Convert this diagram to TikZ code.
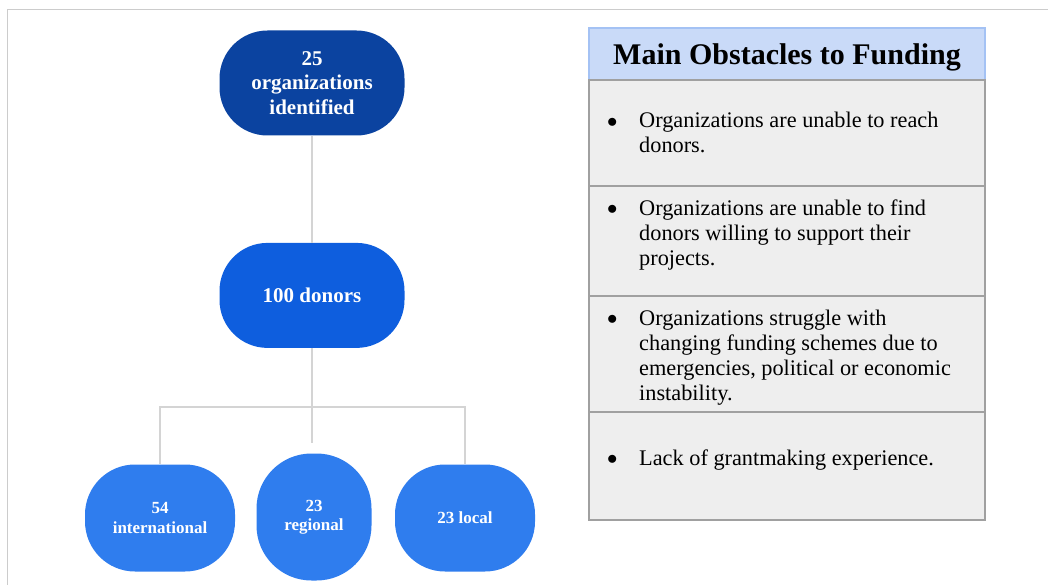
\documentclass[tikz,border=0pt]{standalone}
\usepackage{fontspec}
\setmainfont{Liberation Serif}
\usepackage{tikz}
\usetikzlibrary{positioning}
\definecolor{orgblue}{RGB}{11,67,160}
\definecolor{donorblue}{RGB}{14,94,222}
\definecolor{typeblue}{RGB}{47,125,238}
\definecolor{headfill}{RGB}{201,218,248}
\definecolor{headline}{RGB}{164,194,244}
\definecolor{rowfill}{RGB}{238,238,238}
\definecolor{rowline}{RGB}{160,160,160}
\definecolor{linkgray}{RGB}{212,212,212}
\tikzset{
  donorbox/.style={rounded corners=48pt, minimum width=185pt, minimum height=105pt,
      align=center, text=white, fill=#1, font=\fontsize{21}{24.5}\selectfont\bfseries},
  typebox/.style={rounded corners=50pt, minimum height=107pt,
      align=center, text=white, fill=typeblue, font=\fontsize{17}{19.5}\selectfont\bfseries},
  headbox/.style={draw=headline, fill=headfill, line width=1.5pt, outer sep=0pt,
      minimum width=396pt, minimum height=52pt, text depth=0pt,
      font=\fontsize{30}{32}\selectfont\bfseries},
  obstbox/.style={draw=rowline, fill=rowfill, line width=1.5pt, outer sep=0pt,
      minimum width=396pt, minimum height=#1},
  obsttext/.style={anchor=base west, inner sep=0pt, font=\fontsize{22.3}{25}\selectfont},
  linkline/.style={draw=linkgray, line width=1.4pt},
}
\newcommand{\obstitem}[1]{\makebox[32pt][l]{\raisebox{0.5pt}{$\bullet$}}\parbox[t]{330pt}{#1}}

\begin{document}
\begin{tikzpicture}[x=1pt, y=-1pt]
  \useasboundingbox (0,0) rectangle (1048,585);
  \draw[linkgray!90!black!80, line width=1pt] (1048,10) -| (7,585);

  % donor tree
  \node[donorbox=orgblue] (org) at (312,83) {25\\organizations\\identified};
  \node[donorbox=donorblue, below=107pt of org] (donors) {100 donors};
  \node[typebox, minimum width=150pt] (intl) at (160,518) {54\\international};
  \node[typebox, minimum width=115pt, minimum height=127pt, rounded corners=55pt] (reg) at (314,517) {23\\regional};
  \node[typebox, minimum width=140pt] (local) at (465,518) {23 local};
  \coordinate (fork) at (312,407);
  \coordinate (stub) at (312,443);
  \draw[linkline] (org) -- (donors);
  \draw[linkline] (donors) -- (fork) -- (stub);
  \draw[linkline] (fork) -| (intl);
  \draw[linkline] (fork) -| (local);

  % obstacles panel
  \node[headbox] (head) at (787,54) {Main Obstacles to Funding};
  \node[obstbox=106pt, below=0pt of head] (obst1) {};
  \node[obstbox=110pt, below=0pt of obst1] (obst2) {};
  \node[obstbox=116pt, below=0pt of obst2] (obst3) {};
  \node[obstbox=108pt, below=0pt of obst3] (obst4) {};
  \node[obsttext] (txt1) at ([shift={(18,48)}]obst1.north west)
    {\obstitem{Organizations are unable to reach\\donors.}};
  \node[obsttext] (txt2) at ([shift={(18,29)}]obst2.north west)
    {\obstitem{Organizations are unable to find\\donors willing to support their\\projects.}};
  \node[obsttext] (txt3) at ([shift={(18,29)}]obst3.north west)
    {\obstitem{Organizations struggle with\\changing funding schemes due to\\emergencies, political or economic\\instability.}};
  \node[obsttext] (txt4) at ([shift={(18,53)}]obst4.north west)
    {\obstitem{Lack of grantmaking experience.}};
\end{tikzpicture}
\end{document}
